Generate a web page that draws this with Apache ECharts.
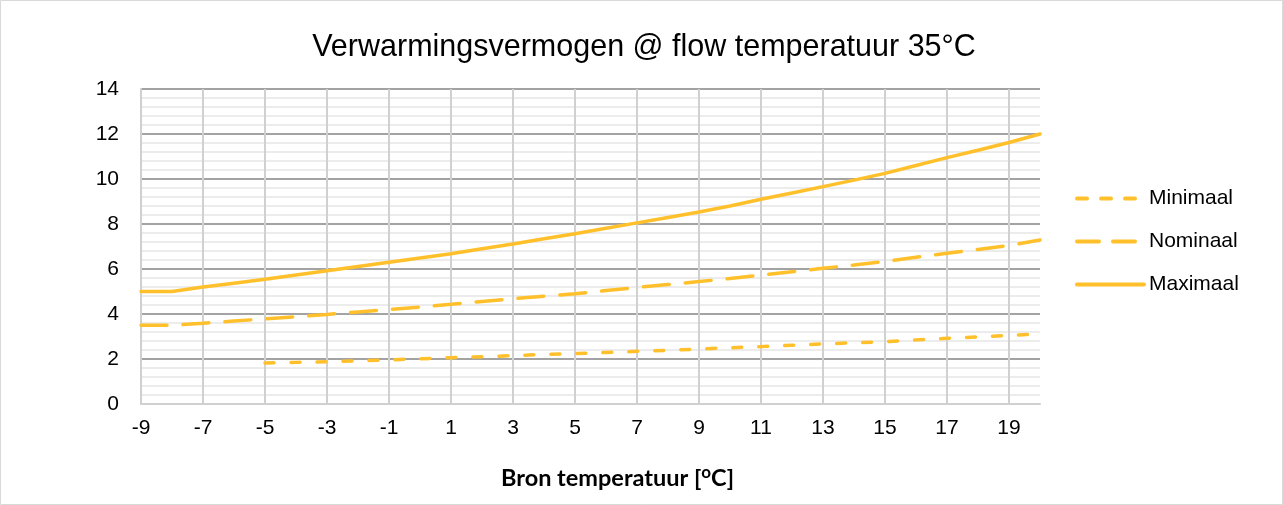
<!DOCTYPE html>
<html>
<head>
<meta charset="utf-8">
<script src="https://cdn.jsdelivr.net/npm/echarts@6/dist/echarts.min.js"></script>
<style>
html,body{margin:0;padding:0;background:#fff;}
#chart{width:1283px;height:505px;}
</style>
</head>
<body>
<div id="chart"></div>
<script>
const categories = ['-9','-8','-7','-6','-5','-4','-3','-2','-1','0','1','2','3','4','5','6','7','8','9','10','11','12','13','14','15','16','17','18','19','20'];
const minimaal = [null,null,null,null,1.82,1.85,1.88,1.92,1.96,2.01,2.06,2.10,2.15,2.20,2.24,2.29,2.34,2.39,2.44,2.50,2.55,2.61,2.67,2.72,2.77,2.85,2.92,2.98,3.05,3.11];
const nominaal = [3.50,3.50,3.59,3.69,3.78,3.88,3.98,4.09,4.20,4.31,4.43,4.56,4.68,4.79,4.90,5.04,5.18,5.31,5.44,5.58,5.73,5.88,6.03,6.18,6.34,6.52,6.70,6.87,7.05,7.29];
const maximaal = [5.00,5.00,5.20,5.37,5.54,5.73,5.92,6.11,6.30,6.49,6.68,6.90,7.11,7.34,7.57,7.81,8.05,8.29,8.53,8.80,9.10,9.38,9.66,9.95,10.25,10.60,10.95,11.28,11.62,12.00];
const seriesNames = ['Minimaal','Nominaal','Maximaal'];
const titleText = 'Verwarmingsvermogen @ flow temperatuur 35°C';

const gold = '#FFC02B';
const dashMin = [9,17];
const dashNom = [26,16];
const chart = echarts.init(document.getElementById('chart'), null, {renderer:'canvas'});
chart.setOption({
  animation:false,
  backgroundColor:'#fff',
  graphic:[{type:'rect',shape:{x:0.5,y:0.5,width:1282,height:504},style:{fill:'none',stroke:'#d9d9d9',lineWidth:1},silent:true}],
  title:{text:titleText,left:639,textAlign:'center',top:27,textStyle:{fontFamily:'Liberation Sans',fontWeight:'normal',fontSize:30.5,color:'#000'}},
  legend:{orient:'vertical',left:1070,top:183,itemWidth:67,itemHeight:20,itemGap:22,
    itemStyle:{opacity:0},
    textStyle:{fontFamily:'Liberation Sans',fontSize:21,color:'#000'},
    data:[
      {name:seriesNames[0],lineStyle:{color:gold,width:4,type:[10,14],cap:'round'}},
      {name:seriesNames[1],lineStyle:{color:gold,width:4,type:[22,14],cap:'round'}},
      {name:seriesNames[2],lineStyle:{color:gold,width:4,type:'solid',cap:'round'}}
    ]},
  grid:{left:141,right:243,top:89,bottom:101,containLabel:false},
  xAxis:{type:'category',data:categories,boundaryGap:false,
    name:'Bron temperatuur [{sup|o}C]',nameLocation:'middle',nameGap:60,
    nameTextStyle:{fontFamily:'Lato',fontWeight:'bold',fontSize:23.5,color:'#000',padding:[0,0,0,54],
      rich:{sup:{fontFamily:'Lato',fontWeight:'bold',fontSize:17,color:'#000',verticalAlign:'top',padding:[0,0,12,0]}}},
    axisLine:{lineStyle:{color:'#d0d0d0',width:2}},
    axisTick:{show:false},
    axisLabel:{interval:1,margin:14,fontFamily:'Liberation Sans',fontSize:21,color:'#000'},
    splitLine:{show:true,interval:1,lineStyle:{color:'#d0d0d0',width:2}}},
  yAxis:{type:'value',min:0,max:14,interval:2,
    axisLine:{show:true,lineStyle:{color:'#d0d0d0',width:2}},
    axisTick:{show:false},
    axisLabel:{margin:22,fontFamily:'Liberation Sans',fontSize:21,color:'#000'},
    splitLine:{lineStyle:{color:'#a3a3a3',width:2}},
    minorTick:{show:false,splitNumber:5},
    minorSplitLine:{show:true,lineStyle:{color:'#ececec',width:2}}},
  series:[
    {name:'Minimaal',type:'line',data:minimaal,symbol:'none',connectNulls:false,
      lineStyle:{color:gold,width:3.5,type:dashMin,cap:'round'},itemStyle:{color:gold}},
    {name:'Nominaal',type:'line',data:nominaal,symbol:'none',
      lineStyle:{color:gold,width:3.5,type:dashNom,cap:'round'},itemStyle:{color:gold}},
    {name:'Maximaal',type:'line',data:maximaal,symbol:'none',
      lineStyle:{color:gold,width:3.5,type:'solid',cap:'round'},itemStyle:{color:gold}}
  ]
});
</script>
</body>
</html>
